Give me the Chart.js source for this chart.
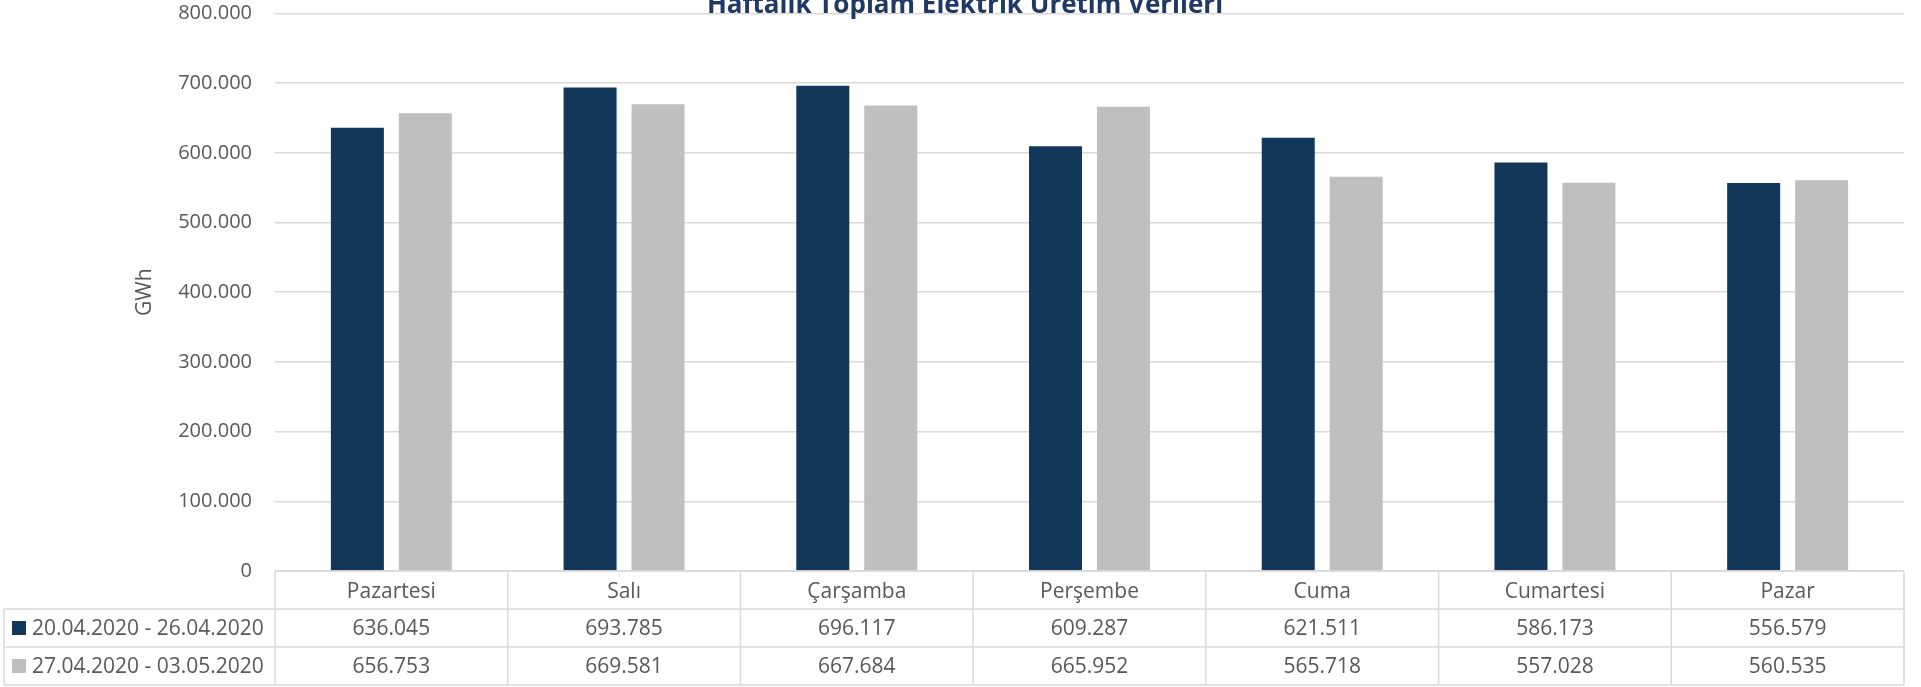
<!DOCTYPE html>
<html>
<head>
<meta charset="utf-8">
<script src="https://cdn.jsdelivr.net/npm/chart.js@4.4.1/dist/chart.umd.min.js"></script>
<style>
  html, body { margin: 0; padding: 0; background: #ffffff; }
  #wrap { width: 1921px; height: 687px; position: relative; }
</style>
</head>
<body>
<div id="wrap"><canvas id="c" width="1921" height="687"></canvas></div>
<script>
const chartTitle = 'Haftalık Toplam Elektrik Üretim Verileri';
const yAxisTitle = 'GWh';
const categories = ['Pazartesi', 'Salı', 'Çarşamba', 'Perşembe', 'Cuma', 'Cumartesi', 'Pazar'];
const seriesLabels = ['20.04.2020 - 26.04.2020', '27.04.2020 - 03.05.2020'];
const week1 = [636045, 693785, 696117, 609287, 621511, 586173, 556579];
const week2 = [656753, 669581, 667684, 665952, 565718, 557028, 560535];
const yMin = 0;
const yMax = 800000;
const yStep = 100000;
const seriesColors = ['#12375a', '#bfbfbf'];

const FONT = "'Open Sans', sans-serif";
const TEXT = '#595959';
const LINE = '#d9d9d9';

function fmt(n) {
  return String(n).replace(/\B(?=(\d{3})+(?!\d))/g, '.');
}

const tablePlugin = {
  id: 'dataTable',
  afterDraw(chart) {
    const ctx = chart.ctx;
    const area = chart.chartArea;
    const xs = chart.scales.x;
    const n = categories.length;
    const colW = xs.getPixelForValue(1) - xs.getPixelForValue(0);
    const bounds = [];
    for (let i = 0; i <= n; i++) bounds.push(xs.getPixelForValue(0) - colW / 2 + i * colW);
    const rowH = 38;
    const top = area.bottom;
    const legLeft = 4;
    const rows = [top, top + rowH, top + 2 * rowH, top + 3 * rowH];
    const right = bounds[n];

    ctx.save();
    ctx.strokeStyle = LINE;
    ctx.lineWidth = 1.5;
    ctx.beginPath();
    ctx.moveTo(bounds[0], rows[0]); ctx.lineTo(right, rows[0]);
    for (let r = 1; r < rows.length; r++) { ctx.moveTo(legLeft, rows[r]); ctx.lineTo(right, rows[r]); }
    for (let i = 0; i <= n; i++) { ctx.moveTo(bounds[i], rows[0]); ctx.lineTo(bounds[i], rows[3]); }
    ctx.moveTo(legLeft, rows[1]); ctx.lineTo(legLeft, rows[3]);
    ctx.stroke();

    ctx.fillStyle = TEXT;
    ctx.font = '21px ' + FONT;
    ctx.textBaseline = 'alphabetic';
    ctx.textAlign = 'center';
    const series = [week1, week2];
    for (let i = 0; i < n; i++) {
      const cx = (bounds[i] + bounds[i + 1]) / 2;
      ctx.fillText(categories[i], cx, rows[0] + 27);
      for (let s = 0; s < series.length; s++) {
        ctx.fillText(fmt(series[s][i]), cx, rows[s + 1] + 26);
      }
    }
    ctx.textAlign = 'left';
    for (let s = 0; s < seriesLabels.length; s++) {
      const mid = (rows[s + 1] + rows[s + 2]) / 2;
      ctx.fillStyle = seriesColors[s];
      ctx.fillRect(12, mid - 7, 14, 14);
      ctx.fillStyle = TEXT;
      ctx.fillText(seriesLabels[s], 32, rows[s + 1] + 26);
    }

    ctx.fillStyle = '#1f3864';
    ctx.font = 'bold 26px ' + FONT;
    ctx.textAlign = 'center';
    ctx.fillText(chartTitle, 965, 12.7);
    ctx.restore();
  }
};

new Chart(document.getElementById('c'), {
  type: 'bar',
  data: {
    labels: categories,
    datasets: [
      { label: seriesLabels[0], data: week1, backgroundColor: seriesColors[0], borderWidth: 0,
        categoryPercentage: 0.584, barPercentage: 0.78 },
      { label: seriesLabels[1], data: week2, backgroundColor: seriesColors[1], borderWidth: 0,
        categoryPercentage: 0.584, barPercentage: 0.78 }
    ]
  },
  options: {
    responsive: false,
    animation: false,
    devicePixelRatio: 1,
    layout: { padding: { left: 0, right: 17, top: 13.4, bottom: 116 } },
    plugins: {
      legend: { display: false },
      title: { display: false },
      tooltip: { enabled: false }
    },
    scales: {
      x: {
        display: false,
        offset: true
      },
      y: {
        min: yMin,
        max: yMax,
        border: { display: false },
        grid: { color: LINE, lineWidth: 1.5, drawTicks: false },
        ticks: {
          stepSize: yStep,
          padding: 23,
          color: TEXT,
          font: { family: FONT, size: 20 },
          callback: (v) => fmt(v)
        },
        title: {
          display: true,
          text: yAxisTitle,
          color: TEXT,
          font: { family: FONT, size: 21 },
          padding: { top: 132, bottom: 0 }
        },
        afterFit(scale) {
          scale.width = 275;
          scale.paddingTop = 0;
          scale.paddingBottom = 0;
        }
      }
    }
  },
  plugins: [tablePlugin]
});
</script>
</body>
</html>
